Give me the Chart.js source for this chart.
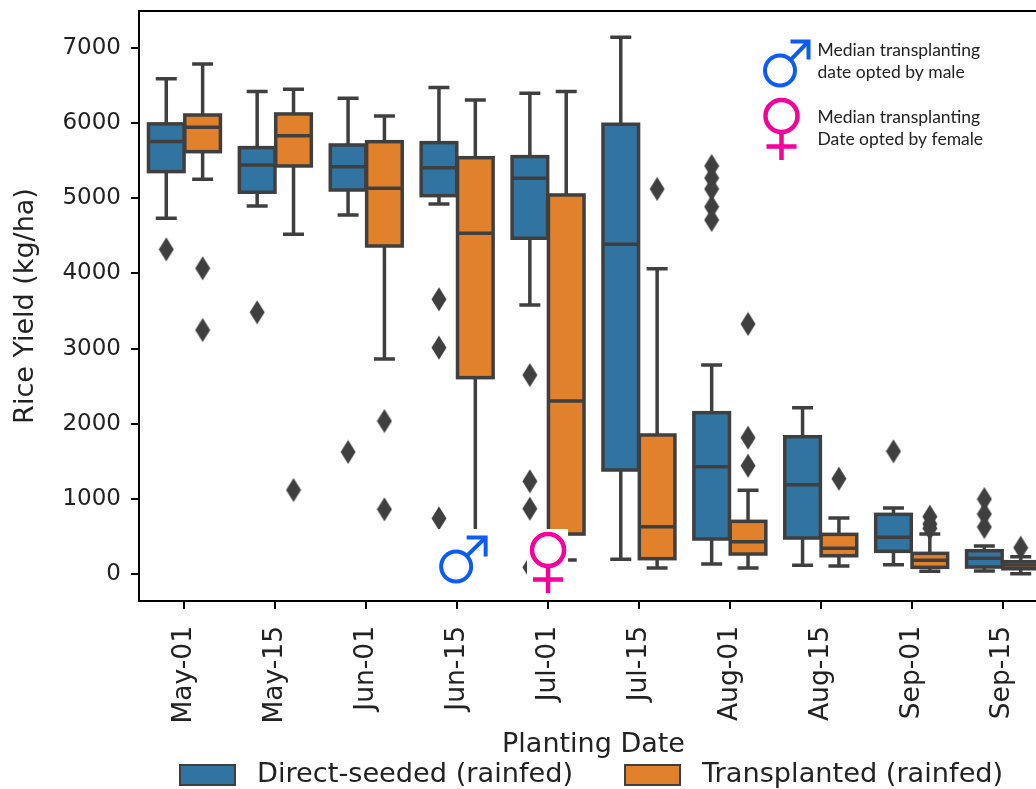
<!DOCTYPE html>
<html>
<head>
<meta charset="utf-8">
<title>Rice yield by planting date</title>
<script src="https://cdn.jsdelivr.net/npm/chart.js@4/dist/chart.umd.min.js"></script>
<style>
  html, body { margin: 0; padding: 0; background: #fff; overflow: hidden; }
  #wrap { width: 1036px; height: 789px; overflow: hidden; }
  canvas { display: block; }
</style>
</head>
<body>
<div id="wrap"><canvas id="chart" width="1060" height="789"></canvas></div>
<script>
const plantingDates = ["May-01", "May-15", "Jun-01", "Jun-15", "Jul-01", "Jul-15", "Aug-01", "Aug-15", "Sep-01", "Sep-15"];
const yTickValues = [0, 1000, 2000, 3000, 4000, 5000, 6000, 7000];
const seriesNames = ["Direct-seeded (rainfed)", "Transplanted (rainfed)"];

// Direct-seeded
const directLow = [4735, 4897, 4778, 4924, 3580, 195, 133, 116, 124, 40];
const directQ1 = [5355, 5080, 5110, 5035, 4468, 1384, 466, 479, 302, 93];
const directMedian = [5755, 5443, 5420, 5405, 5266, 4388, 1428, 1188, 488, 209];
const directQ3 = [5990, 5674, 5709, 5740, 5554, 5985, 2147, 1827, 794, 310];
const directHigh = [6590, 6420, 6330, 6475, 6397, 7142, 2781, 2213, 878, 373];
const directFliers = [[4320], [3483], [1624], [3656, 3012, 741], [2648, 1234, 869, 89], [], [5430, 5270, 5124, 4888, 4711], [], [1633], [998, 798, 625]];

// Transplanted
const transLow = [5252, 4520, 2861, 200, 186, 80, 80, 106, 36, 4];
const transQ1 = [5620, 5430, 4365, 2613, 532, 204, 266, 243, 89, 70];
const transMedian = [5945, 5833, 5133, 4534, 2302, 630, 430, 342, 182, 120];
const transQ3 = [6108, 6122, 5753, 5540, 5044, 1850, 701, 528, 275, 164];
const transHigh = [6787, 6450, 6095, 6308, 6420, 4063, 1114, 745, 532, 230];
const transFliers = [[4068, 3247], [1118], [2036, 861], [], [], [5124], [3327, 1814, 1441], [1268], [763, 665, 608], [350]];

const BLUE = "#3274a1";
const ORANGE = "#e1812c";
const LINE = "#3f3f3f";
const TEXT = "#222222";
const MALE = "#0a5cf5";
const FEMALE = "#f5009b";
const SHIFT = 0.2;

// thin diamond like matplotlib's "d" marker
const diamond = document.createElement("canvas");
diamond.width = 16;
diamond.height = 25;
const dctx = diamond.getContext("2d");
dctx.fillStyle = LINE;
dctx.beginPath();
dctx.moveTo(8, 0.5);
dctx.lineTo(15.5, 12.5);
dctx.lineTo(8, 24.5);
dctx.lineTo(0.5, 12.5);
dctx.closePath();
dctx.fill();

const flierPoints = (fliers, shift) =>
  fliers.flatMap((vals, i) => vals.map((v) => ({ x: i + shift, y: v })));

const boxPoints = (q1, q3, shift) =>
  q1.map((v, i) => ({ x: i + shift, y: [v, q3[i]] }));

function drawMale(ctx, cx, cy, r, tipX, tipY, head) {
  ctx.strokeStyle = MALE;
  ctx.lineWidth = 4;
  ctx.beginPath();
  ctx.arc(cx, cy, r, 0, Math.PI * 2);
  ctx.stroke();
  const d = Math.SQRT1_2 * r;
  ctx.beginPath();
  ctx.moveTo(cx + d, cy - d);
  ctx.lineTo(tipX, tipY);
  ctx.stroke();
  ctx.beginPath();
  ctx.moveTo(tipX - head, tipY);
  ctx.lineTo(tipX, tipY);
  ctx.lineTo(tipX, tipY + head);
  ctx.stroke();
}

function drawFemale(ctx, cx, cy, r, stemEnd, barY, barHalf) {
  ctx.strokeStyle = FEMALE;
  ctx.lineWidth = 4.5;
  ctx.beginPath();
  ctx.arc(cx, cy, r, 0, Math.PI * 2);
  ctx.stroke();
  ctx.beginPath();
  ctx.moveTo(cx, cy + r);
  ctx.lineTo(cx, stemEnd);
  ctx.moveTo(cx - barHalf, barY);
  ctx.lineTo(cx + barHalf, barY);
  ctx.stroke();
}

// whiskers, caps, medians and box outlines on top of the floating bars
const boxParts = {
  id: "boxParts",
  afterDatasetsDraw(chart) {
    const { ctx, scales } = chart;
    const y = scales.y;
    const groups = [
      { meta: chart.getDatasetMeta(0), low: directLow, high: directHigh, q1: directQ1, q3: directQ3, med: directMedian },
      { meta: chart.getDatasetMeta(1), low: transLow, high: transHigh, q1: transQ1, q3: transQ3, med: transMedian },
    ];
    ctx.save();
    ctx.strokeStyle = LINE;
    ctx.lineWidth = 3.5;
    groups.forEach((g) => {
      g.meta.data.forEach((bar, i) => {
        const half = bar.width / 2;
        const capHalf = 10.5;
        const top = y.getPixelForValue(g.q3[i]);
        const bottom = y.getPixelForValue(g.q1[i]);
        const hi = y.getPixelForValue(g.high[i]);
        const lo = y.getPixelForValue(g.low[i]);
        const med = y.getPixelForValue(g.med[i]);
        ctx.beginPath();
        ctx.moveTo(bar.x, top);
        ctx.lineTo(bar.x, hi);
        ctx.moveTo(bar.x - capHalf, hi);
        ctx.lineTo(bar.x + capHalf, hi);
        ctx.moveTo(bar.x, bottom);
        ctx.lineTo(bar.x, lo);
        ctx.moveTo(bar.x - capHalf, lo);
        ctx.lineTo(bar.x + capHalf, lo);
        ctx.moveTo(bar.x - half, med);
        ctx.lineTo(bar.x + half, med);
        ctx.stroke();
        ctx.strokeRect(bar.x - half, top, bar.width, bottom - top);
      });
    });
    ctx.restore();
  },
};

// the pasted-on symbols and their notes, plus the legend under the axis
const overlay = {
  id: "overlay",
  afterDraw(chart) {
    const { ctx, chartArea, scales } = chart;
    ctx.save();

    // top spine
    ctx.strokeStyle = "#000";
    ctx.lineWidth = 2;
    ctx.beginPath();
    ctx.moveTo(chartArea.left, chartArea.top);
    ctx.lineTo(chartArea.right, chartArea.top);
    ctx.stroke();

    // white patches behind the symbols hide what is under them
    const junX = scales.x.getPixelForValue(3);
    const julX = scales.x.getPixelForValue(4);
    ctx.fillStyle = "#fff";
    ctx.fillRect(junX - 20, 529, 52, 61);
    ctx.fillRect(julX - 21, 529, 41, 66);
    drawMale(ctx, junX - 1, 566.5, 15, junX + 28.5, 537.5, 19);
    drawFemale(ctx, julX, 550, 16, 593, 579.5, 15);

    drawMale(ctx, 780, 70.5, 15, 808.5, 41.5, 18);
    drawFemale(ctx, 781.5, 116, 16, 160, 146.5, 15);

    ctx.fillStyle = "#222";
    ctx.font = '17.5px Lato';
    ctx.textAlign = "left";
    ctx.textBaseline = "middle";
    ctx.fillText("Median transplanting", 817.5, 50);
    ctx.fillText("date opted by male", 817.5, 72);
    ctx.fillText("Median transplanting", 817.5, 117);
    ctx.fillText("Date opted by female", 817.5, 139);

    // legend
    ctx.font = '27.2px "DejaVu Sans"';
    [[180, 257, BLUE], [625, 702, ORANGE]].forEach(([boxX, textX, colour], i) => {
      ctx.fillStyle = colour;
      ctx.fillRect(boxX, 765, 55, 20);
      ctx.strokeStyle = LINE;
      ctx.lineWidth = 2;
      ctx.strokeRect(boxX, 765, 55, 20);
      ctx.fillStyle = TEXT;
      ctx.fillText(seriesNames[i], textX, 775);
    });
    ctx.restore();
  },
};

new Chart(document.getElementById("chart"), {
  type: "bar",
  data: {
    datasets: [
      { label: seriesNames[0], data: boxPoints(directQ1, directQ3, -SHIFT), backgroundColor: BLUE, order: 2 },
      { label: seriesNames[1], data: boxPoints(transQ1, transQ3, SHIFT), backgroundColor: ORANGE, order: 2 },
      { type: "scatter", label: "fliers direct", data: flierPoints(directFliers, -SHIFT), pointStyle: diamond, order: 1 },
      { type: "scatter", label: "fliers transplanted", data: flierPoints(transFliers, SHIFT), pointStyle: diamond, order: 1 },
    ],
  },
  options: {
    responsive: false,
    animation: false,
    layout: { padding: { top: 11, right: 12, left: 0, bottom: 0 } },
    datasets: { bar: { grouped: false, barThickness: 35.6 } },
    plugins: { legend: { display: false }, tooltip: { enabled: false } },
    scales: {
      x: {
        type: "linear",
        min: -0.5,
        max: 9.5,
        offset: false,
        afterFit(scale) { scale.height = 188; },
        afterBuildTicks(scale) { scale.ticks = plantingDates.map((d, i) => ({ value: i })); },
        grid: { drawOnChartArea: false, offset: false, color: "#000", lineWidth: 2, tickLength: 8 },
        border: { color: "#000", width: 2 },
        ticks: {
          minRotation: 90, maxRotation: 90, autoSkip: false, color: TEXT, padding: 17,
          font: { family: "DejaVu Sans", size: 26.5 },
          callback: (value) => plantingDates[value],
        },
        title: { display: true, text: "Planting Date", color: TEXT, font: { family: "DejaVu Sans", size: 27 }, padding: { top: 0, bottom: 28 } },
      },
      y: {
        min: -359,
        max: 7492,
        afterFit(scale) {
          scale.width = 139;
          scale.paddingTop = 0;
          scale.paddingBottom = 0;
        },
        afterBuildTicks(scale) { scale.ticks = yTickValues.map((v) => ({ value: v })); },
        grid: { drawOnChartArea: false, color: "#000", lineWidth: 2, tickLength: 8 },
        border: { color: "#000", width: 2 },
        ticks: { color: TEXT, padding: 10, font: { family: "DejaVu Sans", size: 23 }, callback: (value) => String(value) },
        title: { display: true, text: "Rice Yield (kg/ha)", color: TEXT, font: { family: "DejaVu Sans", size: 27 }, padding: { top: 10, bottom: 4 } },
      },
    },
  },
  plugins: [boxParts, overlay],
});
</script>
</body>
</html>
